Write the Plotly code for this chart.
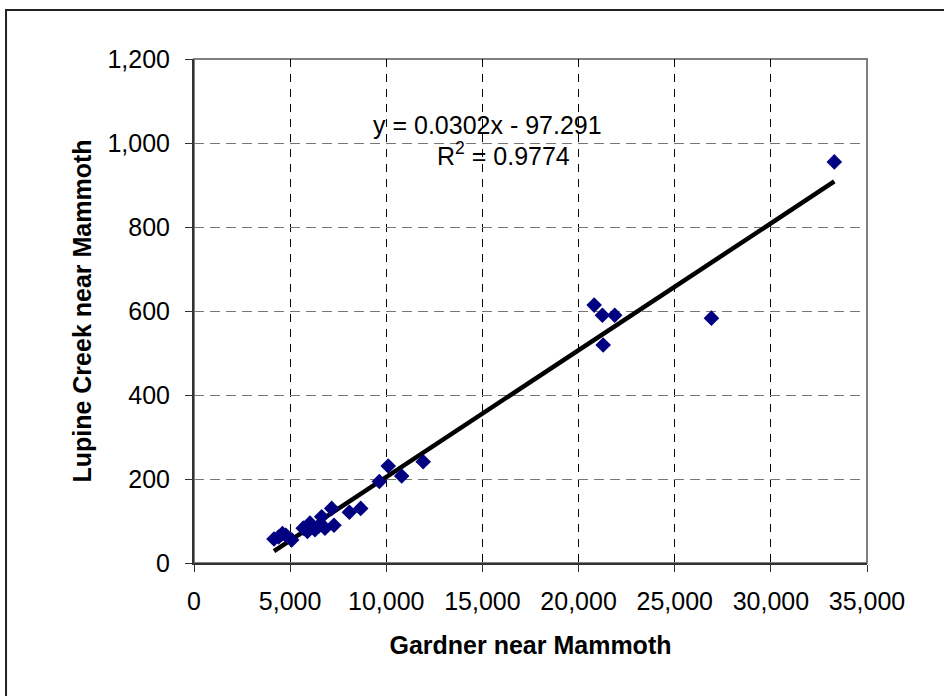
import plotly.graph_objects as go

# Gardner near Mammoth (x) vs Lupine Creek near Mammoth (y)
gardner = [4160, 4400, 4600, 4780, 5080, 5680, 5900, 6030, 6290, 6500,
           6640, 6810, 7160, 7280, 8080, 8670, 9640, 10100, 10800, 11920,
           20810, 21240, 21280, 21880, 26910, 33300]
lupine = [57, 62, 70, 66, 55, 83, 75, 95, 79, 88,
          110, 83, 130, 90, 121, 130, 194, 231, 207, 241,
          614, 590, 519, 590, 583, 955]

slope = 0.0302
intercept = -97.291
r2 = 0.9774

x_ticks = [0, 5000, 10000, 15000, 20000, 25000, 30000, 35000]
y_ticks = [0, 200, 400, 600, 800, 1000, 1200]

FONT = "Liberation Sans, Arial, sans-serif"

fig = go.Figure()

# trend line over the data range
x_fit = [min(gardner), max(gardner)]
y_fit = [slope * v + intercept for v in x_fit]
fig.add_trace(go.Scatter(
    x=x_fit, y=y_fit, mode="lines",
    line=dict(color="black", width=4.5),
    hoverinfo="skip", showlegend=False
))

fig.add_trace(go.Scatter(
    x=gardner, y=lupine, mode="markers",
    marker=dict(symbol="diamond", size=12, color="#000080",
                line=dict(width=0)),
    showlegend=False
))

fig.add_annotation(x=15240, y=1043, text="y = 0.0302x - 97.291",
                   showarrow=False, xanchor="center", yanchor="middle",
                   font=dict(family=FONT, size=25, color="black"))
fig.add_annotation(x=16120, y=975, text=f"R<sup>2</sup> = {r2}",
                   showarrow=False, xanchor="center", yanchor="middle",
                   font=dict(family=FONT, size=25, color="black"))

# grey plot-area border
fig.add_shape(type="rect", xref="paper", yref="paper", x0=0, x1=1, y0=0, y1=1,
              line=dict(color="#808080", width=2), layer="below")
# outer chart frame (runs off the right and bottom edges)
fig.add_shape(type="rect", xref="paper", yref="paper",
              x0=-0.2793, x1=1.6, y0=-0.6, y1=1.0972,
              line=dict(color="#222222", width=2), layer="below")

fig.update_layout(
    width=944, height=696,
    margin=dict(l=194, r=77, t=59, b=133),
    paper_bgcolor="white", plot_bgcolor="white",
    font=dict(family=FONT, size=25, color="black"),
    xaxis=dict(
        range=[0, 35000], tickvals=x_ticks, tickformat=",",
        showgrid=True, gridcolor="black", gridwidth=1, griddash="8px,7px",
        showline=True, linecolor="#333333", linewidth=2,
        ticks="outside", ticklen=7, tickcolor="#333333",
        ticklabelstandoff=8, zeroline=False,
        title=dict(text="<b>Gardner near Mammoth</b>", standoff=22,
                   font=dict(family=FONT, size=25)),
    ),
    yaxis=dict(
        range=[0, 1200], tickvals=y_ticks, tickformat=",",
        showgrid=True, gridcolor="#777777", gridwidth=1, griddash="10px,6px",
        showline=True, linecolor="#333333", linewidth=2,
        ticks="outside", ticklen=7, tickcolor="#333333",
        ticklabelstandoff=10, zeroline=False,
        title=dict(text="<b>Lupine Creek near Mammoth</b>", standoff=9,
                   font=dict(family=FONT, size=25)),
    ),
)

# page body has an 8px default margin; drop it so the figure sits at 0,0
fig.write_html("out.html", config={"displayModeBar": False},
               post_script="document.body.style.margin='0';")
